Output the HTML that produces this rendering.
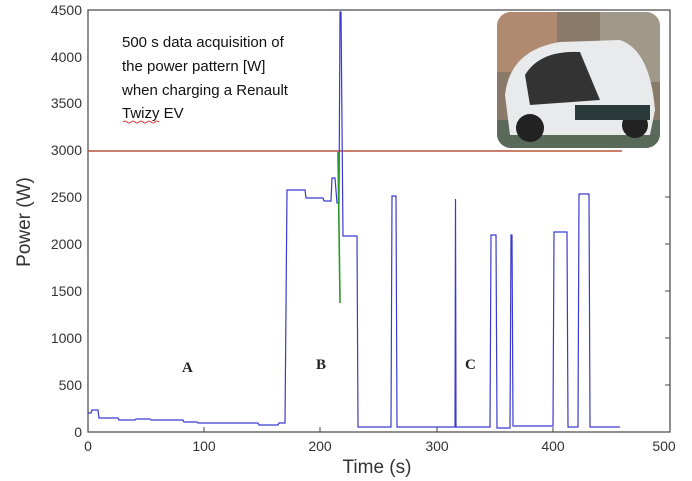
<!DOCTYPE html>
<html><head><style>
body{margin:0;background:#fff;}
</style></head><body>
<svg width="692" height="481" xmlns="http://www.w3.org/2000/svg" style="display:block">
<rect width="692" height="481" fill="#fff"/>
<g font-family="Liberation Sans, sans-serif" font-size="14" fill="#333">
<g text-anchor="end">
<text x="82" y="437">0</text>
<text x="82" y="390">500</text>
<text x="82" y="343">1000</text>
<text x="82" y="296">1500</text>
<text x="82" y="249">2000</text>
<text x="82" y="202">2500</text>
<text x="82" y="155">3000</text>
<text x="82" y="108">3500</text>
<text x="82" y="62">4000</text>
<text x="82" y="15">4500</text>
</g>
<g text-anchor="middle">
<text x="88" y="451">0</text>
<text x="204" y="451">100</text>
<text x="320" y="451">200</text>
<text x="437" y="451">300</text>
<text x="553" y="451">400</text>
<text x="664" y="451">500</text>
</g>
<text x="377" y="473" font-size="19" text-anchor="middle">Time (s)</text>
<text transform="translate(30,222) rotate(-90)" font-size="19" text-anchor="middle">Power (W)</text>
</g>
<rect x="88" y="10" width="582" height="422" fill="none" stroke="#444" stroke-width="1.2"/>
<g stroke="#444">
<line x1="204" y1="432" x2="204" y2="427"/><line x1="320" y1="432" x2="320" y2="427"/><line x1="437" y1="432" x2="437" y2="427"/><line x1="553" y1="432" x2="553" y2="427"/>
<line x1="670" y1="385" x2="665" y2="385"/><line x1="670" y1="338" x2="665" y2="338"/><line x1="670" y1="291" x2="665" y2="291"/><line x1="670" y1="244" x2="665" y2="244"/><line x1="670" y1="197" x2="665" y2="197"/>
</g>
<g font-family="Liberation Sans, sans-serif" font-size="15" fill="#111">
<text x="122" y="47">500 s data acquisition of</text>
<text x="122" y="71">the power pattern [W]</text>
<text x="122" y="95">when charging a Renault</text>
<text x="122" y="118">Twizy EV</text>
</g>
<path d="M123,122 q2,-2 4,0 t4,0 t4,0 t4,0 t4,0 t4,0 t4,0 t4,0 t4,0" fill="none" stroke="#d00" stroke-width="0.8"/>
<g font-family="Liberation Serif, serif" font-size="15" font-weight="bold" fill="#222">
<text x="182" y="372">A</text><text x="316" y="369">B</text><text x="465" y="369">C</text>
</g>
<line x1="88" y1="151" x2="622" y2="151" stroke="#b5533a" stroke-width="1.5"/>
<polyline fill="none" stroke="#3a3ad0" stroke-width="1.2" points="88,413 91,413 92,410 98,410 99,418 118,418 119,420 135,420 136,419 150,419 151,420 183,420 184,422 197,422 198,423 258,423 259,425 278,425 279,423 285,423 287,190 305,190 306,198 323,198 324,201 331,201 332,178 335,178 337,203 339,203 340,12 341,12 343,236 357,236 358,427 391,427 392,196 396,196 397,427 455,427 455.5,199 456,427 490,427 491,235 496,235 497,428 510,428 511,235 512,235 513,426 553,426 554,232 567,232 568,427 578,427 579,194 589,194 590,427 620,427"/>
<polyline fill="none" stroke="#2a9a2a" stroke-width="1.6" points="338,152 340,303"/>
<g>
<clipPath id="c"><rect x="497" y="12" width="163" height="136" rx="14"/></clipPath>
<g clip-path="url(#c)">
<rect x="497" y="12" width="163" height="136" fill="#8a7a6a"/>
<rect x="497" y="12" width="60" height="60" fill="#b08a70"/>
<rect x="600" y="12" width="60" height="70" fill="#a09888"/>
<rect x="497" y="120" width="163" height="28" fill="#5a6a5a"/>
<path d="M505,95 Q510,50 560,42 L620,40 Q650,50 655,110 L650,135 L510,135 Z" fill="#e8eaec"/>
<path d="M525,75 Q540,50 580,52 L600,100 L530,105 Z" fill="#333"/>
<circle cx="530" cy="128" r="14" fill="#222"/>
<circle cx="635" cy="125" r="13" fill="#222"/>
<path d="M575,105 L650,105 L650,120 L575,120 Z" fill="#2a3a3a"/>
</g>
</g>
</svg>
</body></html>
